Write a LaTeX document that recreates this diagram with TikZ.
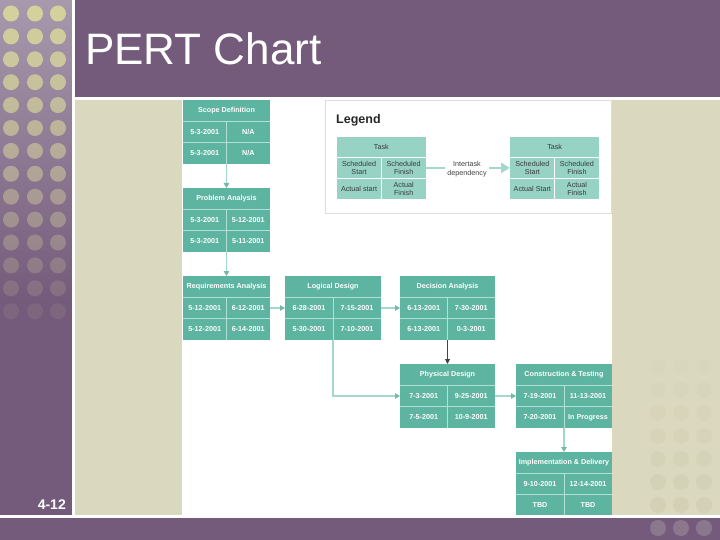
\documentclass[tikz,border=0pt]{standalone}
\usepackage{fontspec}
\setmainfont{Liberation Sans}
\usetikzlibrary{arrows.meta}
\definecolor{purp}{HTML}{745B7B}
\definecolor{lav}{HTML}{A899AD}
\definecolor{khaki}{HTML}{DAD8BE}
\definecolor{teal1}{HTML}{5DB4A0}
\definecolor{tealL}{HTML}{96D3C4}
\definecolor{cline}{HTML}{B3E0D5}
\definecolor{conn}{HTML}{A2D9CC}
\definecolor{connhead}{HTML}{6FBAA9}
\definecolor{darkc}{HTML}{37474F}
\definecolor{dotk}{HTML}{D4D19C}
\definecolor{dotr}{HTML}{C6C3A6}
\definecolor{dotb}{HTML}{8C788E}
\definecolor{ltext}{HTML}{3A3A3A}
\definecolor{legframe}{HTML}{DDDDDD}

\newcommand\pertbox[9]{%
  \node[box, minimum width=#4pt] (#1) at (#2,#3) {};
  \draw[cellln] ([yshift=-21.3pt]#1.north west) -- ([yshift=-21.3pt]#1.north east);
  \draw[cellln] ([yshift=-42.6pt]#1.north west) -- ([yshift=-42.6pt]#1.north east);
  \draw[cellln] ([yshift=-21.3pt]#1.north) -- (#1.south);
  \node[htxt] (#1-h) at ([yshift=-10.7pt]#1.north) {#5};
  \node[htxt] (#1-a) at ([xshift={-(#4)/4*1pt},yshift=-32pt]#1.north) {#6};
  \node[htxt] (#1-b) at ([xshift={(#4)/4*1pt},yshift=-32pt]#1.north) {#7};
  \node[htxt] (#1-c) at ([xshift={-(#4)/4*1pt},yshift=-53.3pt]#1.north) {#8};
  \node[htxt] (#1-d) at ([xshift={(#4)/4*1pt},yshift=-53.3pt]#1.north) {#9};
}
\newcommand\legbox[7]{%
  \node[lbox] (#1) at (#2,#3) {};
  \draw[lcellln] ([yshift=-21pt]#1.north west) -- ([yshift=-21pt]#1.north east);
  \draw[lcellln] ([yshift=-41.7pt]#1.north west) -- ([yshift=-41.7pt]#1.north east);
  \draw[lcellln] ([yshift=-21pt]#1.north) -- (#1.south);
  \node[ltxt] (#1-h) at ([yshift=-10.5pt]#1.north) {Task};
  \node[ltxt] (#1-a) at ([xshift=-22.3pt,yshift=-31.4pt]#1.north) {#4};
  \node[ltxt] (#1-b) at ([xshift=22.3pt,yshift=-31.4pt]#1.north) {#5};
  \node[ltxt] (#1-c) at ([xshift=-22.3pt,yshift=-52pt]#1.north) {#6};
  \node[ltxt] (#1-d) at ([xshift=22.3pt,yshift=-52pt]#1.north) {#7};
}

\begin{document}
\begin{tikzpicture}[x=1pt,y=-1pt,
  box/.style={fill=teal1,inner sep=0pt,outer sep=0pt,minimum height=64pt,anchor=north west},
  lbox/.style={fill=tealL,inner sep=0pt,outer sep=0pt,minimum height=62.4pt,minimum width=89.3pt,anchor=north west},
  cellln/.style={draw=cline,line width=0.8pt},
  lcellln/.style={draw=white,line width=0.8pt},
  htxt/.style={text=white,font=\fontsize{7.2}{8}\selectfont\bfseries,inner sep=0pt},
  ltxt/.style={text=ltext,font=\fontsize{7.2}{8.5}\selectfont,inner sep=0pt,align=center},
  arr/.style={draw=conn,line width=1.2pt,-{Triangle[length=5pt,width=5.5pt,color=connhead]}},
  darr/.style={draw=darkc,line width=1pt,-{Triangle[length=5pt,width=5pt]}},
  larr/.style={draw=conn,line width=2pt,-{Triangle[length=9pt,width=10pt]}},
]
\useasboundingbox (0,0) rectangle (720,540);
% backgrounds
\fill[purp] (0,0) rectangle (720,540);
\shade[top color=lav,bottom color=purp] (0,0) rectangle (72,300);
\foreach \r in {0,...,13}
  \foreach \c in {11,35,58}
    \fill[dotk,opacity={1-\r/14.5}] (\c,{13.5+22.9*\r}) circle[radius=8pt];
\fill[white] (72,0) rectangle (75,517);
\fill[white] (72,97) rectangle (720,100);
\fill[khaki] (75,100) rectangle (720,515);
\foreach \r in {0,...,6}
  \foreach \c in {658,681,704}
    \fill[dotr,opacity={0.05+\r*0.05}] (\c,{367+23*\r}) circle[radius=8pt];
\fill[white] (182,100) rectangle (612,515);
% title
\node[anchor=base west,inner sep=0pt,text=white,font=\fontsize{44}{48}\selectfont] (title) at (85,65) {PERT Chart};
% legend
\draw[legframe,line width=0.8pt] (325,100) rectangle (611,213);
\node[anchor=base west,inner sep=0pt,text=black!85,font=\fontsize{12.5}{14}\selectfont\bfseries] (legend) at (336,124) {Legend};
\legbox{legL}{336.7}{136.7}{Scheduled\\Start}{Scheduled\\Finish}{Actual start}{Actual\\Finish}
\legbox{legR}{510}{136.7}{Scheduled\\Start}{Scheduled\\Finish}{Actual Start}{Actual\\Finish}
\draw[larr] (legL.east) -- (legR.west);
\node[ltxt,fill=white,inner sep=2pt,text=black!75] (dep) at (467,169) {Intertask\\dependency};
% tasks
\pertbox{scope}{183}{100}{87}{Scope Definition}{5-3-2001}{N/A}{5-3-2001}{N/A}
\pertbox{prob}{183}{188}{87}{Problem Analysis}{5-3-2001}{5-12-2001}{5-3-2001}{5-11-2001}
\pertbox{req}{183}{276}{87}{Requirements Analysis}{5-12-2001}{6-12-2001}{5-12-2001}{6-14-2001}
\pertbox{log}{285}{276}{96}{Logical Design}{6-28-2001}{7-15-2001}{5-30-2001}{7-10-2001}
\pertbox{dec}{400}{276}{95}{Decision Analysis}{6-13-2001}{7-30-2001}{6-13-2001}{0-3-2001}
\pertbox{phys}{400}{364}{95}{Physical Design}{7-3-2001}{9-25-2001}{7-5-2001}{10-9-2001}
\pertbox{cons}{516}{364}{96}{Construction \& Testing}{7-19-2001}{11-13-2001}{7-20-2001}{In Progress}
\pertbox{impl}{516}{452}{96}{Implementation \& Delivery}{9-10-2001}{12-14-2001}{TBD}{TBD}
% connectors
\draw[arr] (scope.south) -- (prob.north);
\draw[arr] (prob.south) -- (req.north);
\draw[arr] (req.east) -- (log.west);
\draw[arr] (log.east) -- (dec.west);
\draw[darr] (dec.south) -- (phys.north);
\draw[arr] (log.south) |- (phys.west);
\draw[arr] (phys.east) -- (cons.west);
\draw[arr] (cons.south) -- (impl.north);
% bottom band
\fill[white] (0,515) rectangle (720,517.5);
\fill[purp] (0,517.5) rectangle (720,540);
\foreach \c in {658,681,704}
  \fill[dotb] (\c,528) circle[radius=8pt];
\node[anchor=base east,inner sep=0pt,text=white,font=\fontsize{14}{16}\selectfont\bfseries] (pnum) at (66,509) {4-12};
\end{tikzpicture}
\end{document}
